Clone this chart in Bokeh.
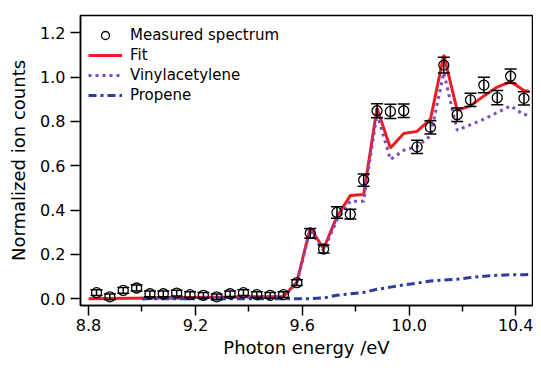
from bokeh.plotting import figure
from bokeh.models import (ColumnDataSource, Whisker, TeeHead, Legend, LegendItem,
                          FixedTicker, PrintfTickFormatter, Range1d)
from bokeh.embed import file_html
from bokeh.resources import INLINE

# Measured spectrum
energy = [8.83, 8.88, 8.93, 8.98, 9.03, 9.08, 9.13, 9.18, 9.23, 9.28, 9.33,
          9.38, 9.43, 9.48, 9.53, 9.58, 9.63, 9.68, 9.73, 9.78, 9.83, 9.88,
          9.93, 9.98, 10.03, 10.08, 10.13, 10.18, 10.23, 10.28, 10.33, 10.38, 10.43]
measured = [0.027, 0.008, 0.037, 0.048, 0.022, 0.022, 0.025, 0.018, 0.015, 0.008, 0.022,
            0.027, 0.018, 0.015, 0.018, 0.072, 0.295, 0.224, 0.389, 0.381, 0.535, 0.848,
            0.845, 0.848, 0.685, 0.773, 1.054, 0.830, 0.897, 0.964, 0.907, 1.004, 0.904]
error = [0.013, 0.013, 0.013, 0.013, 0.013, 0.013, 0.013, 0.013, 0.013, 0.013, 0.013,
         0.013, 0.013, 0.013, 0.013, 0.013, 0.022, 0.018, 0.026, 0.022, 0.028, 0.032,
         0.032, 0.030, 0.030, 0.030, 0.035, 0.030, 0.030, 0.035, 0.032, 0.032, 0.030]

# Fit
fit_e = [8.80, 9.53, 9.58, 9.63, 9.68, 9.73, 9.78, 9.83, 9.88, 9.93, 9.98, 10.03,
         10.08, 10.13, 10.18, 10.23, 10.28, 10.33, 10.38, 10.43, 10.45]
fit_v = [0.0, 0.010, 0.075, 0.320, 0.225, 0.370, 0.465, 0.470, 0.860, 0.680, 0.745, 0.755,
         0.810, 1.100, 0.850, 0.870, 0.915, 0.955, 0.980, 0.940, 0.935]

# Components
comp_e = [9.00, 9.53, 9.58, 9.63, 9.68, 9.73, 9.78, 9.83, 9.88, 9.93, 9.98, 10.03,
          10.08, 10.13, 10.18, 10.23, 10.28, 10.33, 10.38, 10.43, 10.45]
vinyl_v = [0.0, 0.008, 0.070, 0.310, 0.215, 0.355, 0.440, 0.440, 0.835, 0.628, 0.670, 0.686,
           0.735, 1.020, 0.760, 0.785, 0.810, 0.840, 0.870, 0.830, 0.830]
propene_v = [0.0, 0.0, 0.0, 0.0, 0.003, 0.015, 0.022, 0.028, 0.042, 0.052, 0.062, 0.070,
             0.080, 0.084, 0.088, 0.095, 0.101, 0.105, 0.108, 0.108, 0.109]

x_ticks = [8.8, 9.2, 9.6, 10.0, 10.4]
x_minor = [9.0, 9.4, 9.8, 10.2]
y_ticks = [0.0, 0.2, 0.4, 0.6, 0.8, 1.0, 1.2]

FONT = "DejaVu Sans"

p = figure(frame_width=452, frame_height=290, output_backend="svg", toolbar_location=None,
           x_range=Range1d(8.77, 10.462), y_range=Range1d(-0.031, 1.278),
           min_border_left=80, min_border_right=1, min_border_top=15, min_border_bottom=0)
p.xgrid.visible = False
p.ygrid.visible = False
p.outline_line_color = "black"
p.outline_line_width = 1.5
p.background_fill_color = "white"

meas_src = ColumnDataSource(dict(x=energy, y=measured,
                                 lower=[m - e for m, e in zip(measured, error)],
                                 upper=[m + e for m, e in zip(measured, error)]))

r_fit = p.line(fit_e, fit_v, line_color="#ec1c24", line_width=3)
r_vin = p.line(comp_e, vinyl_v, line_color="#7c4dbd", line_width=3, line_dash="3 4")
r_pro = p.line(comp_e, propene_v, line_color="#2e3c9e", line_width=3, line_dash="8 4 3 4")

wh = Whisker(base="x", upper="upper", lower="lower", source=meas_src, dimension="height",
             line_color="black", line_width=1.5, level="glyph",
             upper_head=TeeHead(size=12, line_width=1.5, line_color="black"),
             lower_head=TeeHead(size=12, line_width=1.5, line_color="black"))
p.add_layout(wh)
r_meas = p.scatter("x", "y", source=meas_src, marker="circle", size=10,
                   fill_color=None, line_color="black", line_width=1.3)

for ax in (p.xaxis[0], p.yaxis[0]):
    ax.axis_line_width = 1.5
    ax.major_tick_line_width = 1.5
    ax.minor_tick_line_width = 1.5
    ax.major_tick_out = 10
    ax.major_tick_in = 0
    ax.minor_tick_in = 0
    ax.major_label_text_font = FONT
    ax.major_label_text_font_size = "16px"
    ax.major_label_text_color = "black"
    ax.axis_label_text_font = FONT
    ax.axis_label_text_font_size = "18px"
    ax.axis_label_text_font_style = "normal"
    ax.axis_label_text_color = "black"
    ax.major_label_standoff = 3
    ax.axis_label_standoff = 3
    ax.formatter = PrintfTickFormatter(format="%.1f")

p.xaxis[0].ticker = FixedTicker(ticks=x_ticks, minor_ticks=x_minor)
p.xaxis[0].minor_tick_out = 6
p.yaxis[0].ticker = FixedTicker(ticks=y_ticks, minor_ticks=[])
p.yaxis[0].minor_tick_out = 0
p.yaxis[0].major_label_standoff = 5
p.yaxis[0].axis_label_standoff = 8
p.xaxis[0].axis_label = "Photon energy /eV"
p.yaxis[0].axis_label = "Normalized ion counts"

legend = Legend(items=[LegendItem(label="Measured spectrum", renderers=[r_meas]),
                       LegendItem(label="Fit", renderers=[r_fit]),
                       LegendItem(label="Vinylacetylene", renderers=[r_vin]),
                       LegendItem(label="Propene", renderers=[r_pro])],
                location=(8, 200), border_line_color=None, background_fill_alpha=0,
                label_text_font=FONT, label_text_font_size="15px", label_text_color="black",
                glyph_width=34, glyph_height=20, label_height=20, spacing=0,
                padding=3, margin=0, label_standoff=8)
p.add_layout(legend)

open("out.html", "w").write(file_html(p, INLINE))
